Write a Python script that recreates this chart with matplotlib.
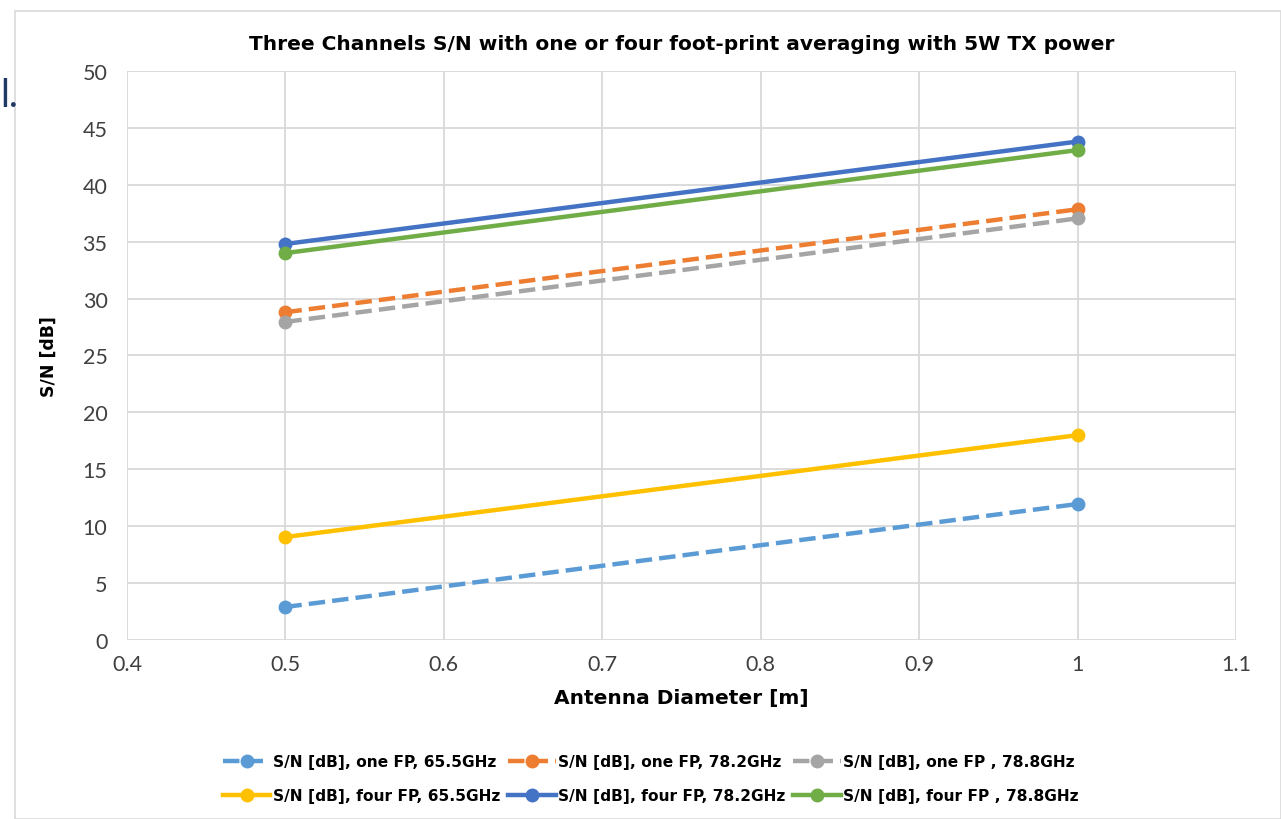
import matplotlib.pyplot as plt
from matplotlib.patches import Rectangle

# antenna diameters [m]
diam = [0.5, 1.0]

# S/N [dB]
sn_one_655 = [2.9, 11.95]
sn_one_782 = [28.8, 37.85]
sn_one_788 = [27.95, 37.05]
sn_four_655 = [9.05, 18.0]
sn_four_782 = [34.8, 43.8]
sn_four_788 = [34.0, 43.05]

plt.rcParams['font.family'] = ['Lato', 'DejaVu Sans']
bold_font = ['DejaVu Sans']

fig = plt.figure(figsize=(12.81, 8.2), dpi=100)
ax = fig.add_axes([0.0991, 0.2183, 0.8658, 0.6939])

fig.patches.append(Rectangle((15 / 1281, 0.0), 1 - 15 / 1281, 1 - 12 / 820,
                             transform=fig.transFigure, fill=False,
                             edgecolor='#D9D9D9', lw=1.2))
fig.text(0.0, 0.883, 'l.', color='#1F3864', fontsize=27, ha='left', va='center')

lw = 3.2
ms = 9
l1, = ax.plot(diam, sn_one_655, color='#5B9BD5', ls='--', lw=lw, marker='o', ms=ms,
              label='S/N [dB], one FP, 65.5GHz')
l2, = ax.plot(diam, sn_one_782, color='#ED7D31', ls='--', lw=lw, marker='o', ms=ms,
              label='S/N [dB], one FP, 78.2GHz')
l3, = ax.plot(diam, sn_one_788, color='#A5A5A5', ls='--', lw=lw, marker='o', ms=ms,
              label='S/N [dB], one FP , 78.8GHz')
l4, = ax.plot(diam, sn_four_655, color='#FFC000', lw=lw, marker='o', ms=ms,
              label='S/N [dB], four FP, 65.5GHz')
l5, = ax.plot(diam, sn_four_782, color='#4472C4', lw=lw, marker='o', ms=ms,
              label='S/N [dB], four FP, 78.2GHz')
l6, = ax.plot(diam, sn_four_788, color='#70AD47', lw=lw, marker='o', ms=ms,
              label='S/N [dB], four FP , 78.8GHz')

ax.set_xlim(0.4, 1.1)
ax.set_ylim(0, 50)
ax.set_xticks([0.4, 0.5, 0.6, 0.7, 0.8, 0.9, 1.0, 1.1])
ax.set_xticklabels(['0.4', '0.5', '0.6', '0.7', '0.8', '0.9', '1', '1.1'])
ax.set_yticks(range(0, 51, 5))
ax.tick_params(length=0, labelsize=15.5, colors='#404040', pad=10)
ax.tick_params(axis='y', pad=14)
for s in ax.spines.values():
    s.set_visible(False)
ax.grid(True, color='#D9D9D9', lw=1.3)
ax.set_axisbelow(True)

ax.set_title('Three Channels S/N with one or four foot-print averaging with 5W TX power',
             fontsize=14.5, fontweight='bold', family=bold_font, pad=16)
ax.set_xlabel('Antenna Diameter [m]', fontsize=14.5, fontweight='bold',
              family=bold_font, labelpad=10)
ax.set_ylabel('S/N [dB]', fontsize=12.5, fontweight='bold', family=bold_font,
              labelpad=18)

handles = [l1, l4, l2, l5, l3, l6]
fig.legend(handles, [h.get_label() for h in handles], ncol=3, loc='center',
           bbox_to_anchor=(0.508, 0.049), frameon=False,
           prop={'weight': 'bold', 'size': 11.1, 'family': bold_font},
           handlelength=3.1, columnspacing=0.5, handletextpad=0.15, labelspacing=1.25)

fig.savefig('out.png', dpi=100)
